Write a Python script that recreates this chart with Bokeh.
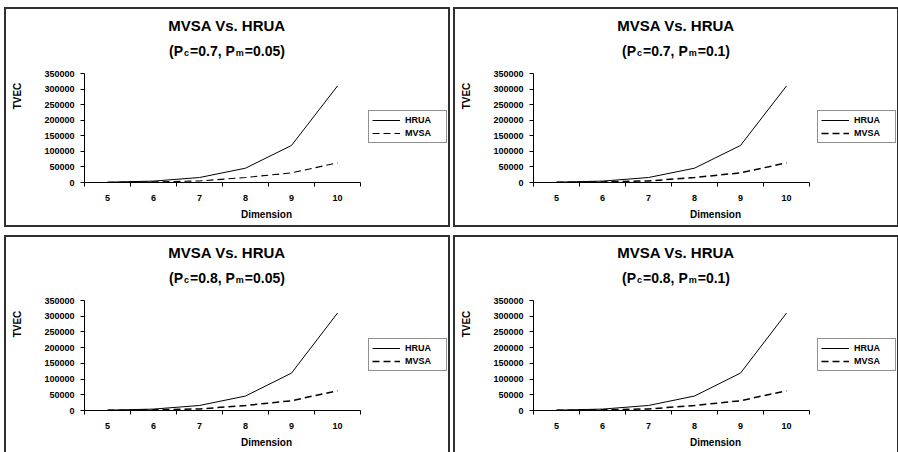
from bokeh.plotting import figure
from bokeh.models import Range1d, FixedTicker, Legend, LegendItem, Label, BasicTickFormatter
from bokeh.layouts import row, column
from bokeh.embed import file_html
from bokeh.resources import INLINE

# ---------------- data ----------------
dimensions = [5, 6, 7, 8, 9, 10]
y_ticks = [0, 50000, 100000, 150000, 200000, 250000, 300000, 350000]

hrua_pc07_pm005 = [1000, 4500, 16000, 46000, 119000, 310000]
mvsa_pc07_pm005 = [500, 2000, 5000, 16000, 31000, 63000]
hrua_pc07_pm01 = [1000, 4500, 16000, 46000, 119000, 310000]
mvsa_pc07_pm01 = [500, 2000, 5000, 16000, 31000, 63000]
hrua_pc08_pm005 = [1000, 4500, 16000, 46000, 119000, 310000]
mvsa_pc08_pm005 = [500, 2000, 5000, 16000, 31000, 63000]
hrua_pc08_pm01 = [1000, 4500, 16000, 46000, 119000, 310000]
mvsa_pc08_pm01 = [500, 2000, 5000, 16000, 31000, 63000]

pc_values = ["0.7", "0.7", "0.8", "0.8"]
pm_values = ["0.05", "0.1", "0.05", "0.1"]
series_names = ["HRUA", "MVSA"]
title_text = "MVSA Vs. HRUA"
x_label = "Dimension"
y_label = "TVEC"

FONT = "Liberation Sans"
# Arial / Liberation Sans Bold advance widths (per 1000 em)
CW = {" ": 278, "(": 333, ")": 333, ",": 278, ".": 278, "=": 584, "P": 667,
      "c": 556, "m": 889}


def tw(s, size):
    return sum(CW.get(ch, 556) for ch in s) / 1000.0 * size


def make_panel(hrua, mvsa, pc, pm, H, B, data_h, t1, t2, leg_top, dash_w):
    W, L = 442, 78
    data_w = 276
    fw, fh = W - L, H - B
    x0, x1 = dimensions[0] - 0.5, dimensions[-1] + 0.5
    y1 = y_ticks[-1]
    p = figure(width=W, height=H, output_backend="svg", toolbar_location=None,
               title=None,
               x_range=Range1d(x0, x0 + (x1 - x0) * fw / data_w),
               y_range=Range1d(0, y1 * fh / data_h),
               min_border_left=L, min_border_right=0, min_border_top=0,
               min_border_bottom=B,
               styles={"outline": "2px solid #303030"})
    p.outline_line_color = None
    p.background_fill_color = "white"
    p.border_fill_color = "white"
    p.xgrid.visible = False
    p.ygrid.visible = False

    r1 = p.line(dimensions, hrua, line_color="black", line_width=1)
    r2 = p.line(dimensions, mvsa, line_color="black", line_width=dash_w,
                line_dash="7 4")

    # y axis
    ya = p.yaxis[0]
    ya.bounds = (0, y1)
    ya.ticker = FixedTicker(ticks=y_ticks)
    ya.formatter = BasicTickFormatter(use_scientific=False)
    ya.major_tick_out = 4
    ya.major_tick_in = 0
    ya.minor_tick_out = 0
    ya.minor_tick_in = 0
    ya.major_label_standoff = 6
    ya.major_label_text_font = FONT
    ya.major_label_text_font_style = "bold"
    ya.major_label_text_font_size = "9px"
    ya.major_label_text_color = "black"
    ya.axis_line_color = "black"
    ya.major_tick_line_color = "black"
    ya.axis_label = y_label
    ya.axis_label_text_font = FONT
    ya.axis_label_text_font_style = "bold"
    ya.axis_label_text_font_size = "10px"
    ya.axis_label_text_color = "black"
    ya.axis_label_standoff = 18

    # x axis: labels at category centres, tick marks between categories
    xa = p.xaxis[0]
    xa.bounds = (x0, x1)
    xa.ticker = FixedTicker(ticks=dimensions,
                            minor_ticks=[d - 0.5 for d in dimensions] + [x1])
    xa.major_tick_out = 0
    xa.major_tick_in = 0
    xa.minor_tick_out = 4
    xa.minor_tick_in = 0
    xa.minor_tick_line_color = "black"
    xa.major_label_standoff = 8
    xa.major_label_text_font = FONT
    xa.major_label_text_font_style = "bold"
    xa.major_label_text_font_size = "9px"
    xa.major_label_text_color = "black"
    xa.axis_line_color = "black"
    xa.axis_label = x_label
    xa.axis_label_text_font = FONT
    xa.axis_label_text_font_style = "bold"
    xa.axis_label_text_font_size = "10px"
    xa.axis_label_text_color = "black"
    xa.axis_label_standoff = 5

    # legend, to the right of the data area
    leg_h = 31
    legend = Legend(items=[LegendItem(label=series_names[0], renderers=[r1]),
                           LegendItem(label=series_names[1], renderers=[r2])],
                    location=(data_w + 8, data_h - leg_top - leg_h), margin=0,
                    padding=3, spacing=1,
                    glyph_width=28, glyph_height=12, label_height=12,
                    label_width=38, label_standoff=5,
                    label_text_font=FONT, label_text_font_style="bold",
                    label_text_font_size="9px", label_text_color="black",
                    border_line_color="#222222", border_line_width=1,
                    background_fill_color="white")
    p.add_layout(legend)

    # two-line title (screen units measured from the frame's bottom-left)
    top = H - B
    cx = 220.5 - L
    p.add_layout(Label(x=cx, y=top - t1, x_units="screen", y_units="screen",
                       text=title_text, text_font=FONT, text_font_style="bold",
                       text_font_size="15px", text_align="center",
                       text_baseline="middle", text_color="black"))
    big, small = 14, 9
    pieces = [("(P", big, 0), ("c", small, -2), ("=" + pc + ", P", big, 0),
              ("m", small, -2), ("=" + pm + ")", big, 0)]
    gap = 1.0
    total = sum(tw(s, sz) for s, sz, _ in pieces) + gap * 4
    xx = cx - total / 2.0
    base = top - t2 - 5
    for s, sz, dy in pieces:
        p.add_layout(Label(x=xx, y=base + dy, x_units="screen", y_units="screen",
                           text=s, text_font=FONT, text_font_style="bold",
                           text_font_size="%dpx" % sz, text_align="left",
                           text_baseline="alphabetic", text_color="black"))
        xx += tw(s, sz) + gap
    return p


p1 = make_panel(hrua_pc07_pm005, mvsa_pc07_pm005, pc_values[0], pm_values[0], 216, 43, 109, 16, 36, 39, 1.1)
p2 = make_panel(hrua_pc07_pm01, mvsa_pc07_pm01, pc_values[1], pm_values[1], 216, 43, 109, 16, 36, 39, 1.5)
p3 = make_panel(hrua_pc08_pm005, mvsa_pc08_pm005, pc_values[2], pm_values[2], 215, 42, 110, 15, 35, 40, 1.5)
p4 = make_panel(hrua_pc08_pm01, mvsa_pc08_pm01, pc_values[3], pm_values[3], 215, 42, 110, 15, 35, 40, 1.5)

layout = column(row(p1, p2, spacing=7), row(p3, p4, spacing=7), spacing=12,
                margin=(9, 0, 0, 6))

open("out.html", "w").write(file_html(layout, INLINE))
